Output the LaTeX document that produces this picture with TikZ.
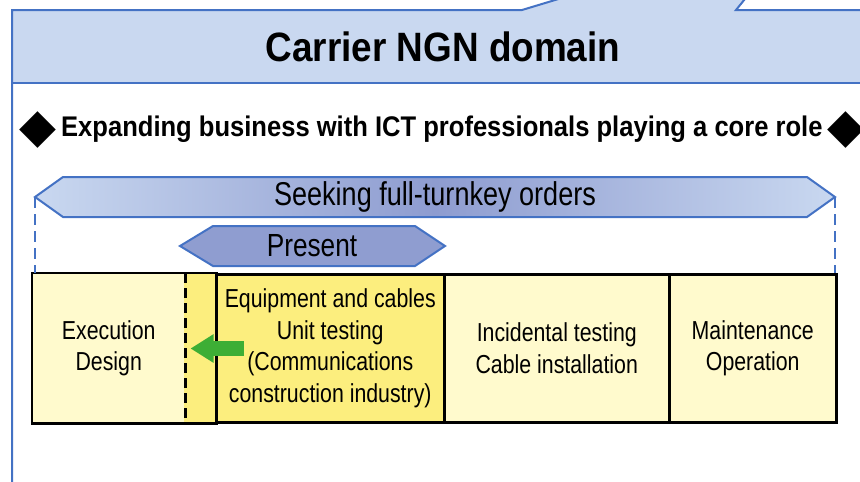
\documentclass[tikz,border=0pt]{standalone}
\usepackage{fontspec}
\setmainfont{Liberation Sans}[FakeStretch=0.82]
\newfontfamily\headfont{Liberation Sans}[FakeStretch=0.9]
\newfontfamily\symfont{DejaVu Sans}
\usepackage{tikz}
\usetikzlibrary{arrows.meta,calc}

\definecolor{frameblue}{HTML}{4472C4}
\definecolor{bannerblue}{HTML}{C9D8F0}
\definecolor{seekmid}{HTML}{8E9CD0}
\definecolor{presentblue}{HTML}{8F9DD0}
\definecolor{paleyellow}{HTML}{FFFACD}
\definecolor{deepyellow}{HTML}{FCEE7E}
\definecolor{arrowgreen}{HTML}{3DAE35}

\tikzset{
  bluefr/.style={draw=frameblue, line width=2pt},
  spanlimit/.style={draw=frameblue, line width=2.3pt, dash pattern=on 11pt off 6pt},
  phasebox/.style={draw=black, line width=2.5pt, minimum height=148pt, inner sep=0pt,
    align=center, anchor=north west, font=\fontsize{26}{31.5}\selectfont},
}

\begin{document}
\begin{tikzpicture}[x=1pt,y=-1pt]
    \useasboundingbox (0,0) rectangle (860,482);
    \clip (0,0) rectangle (860,482);

    % Domain banner
    \fill[bannerblue] (12,83) -- (12,10) -- (522,10) -- (575,-6) -- (749,-6) -- (736,10) -- (875,10) -- (875,83) -- cycle;
    \draw[bluefr] (12,490) -- (12,10) -- (522,10) -- (575,-6);
    \draw[bluefr] (749,-6) -- (736,10) -- (875,10);
    \draw[bluefr] (12,83) -- (875,83);
    \node[font=\headfont\fontsize{41}{41}\selectfont\bfseries] (title) at (443,47) {Carrier NGN domain};

    % Subtitle line
    \node[anchor=west, font=\headfont\fontsize{28.4}{28.4}\selectfont\bfseries] (motto) at (16,130)
        {\raisebox{-6pt}{\symfont\fontsize{48}{48}\selectfont ◆}\,Expanding business with ICT professionals playing a core role\,\raisebox{-6pt}{\symfont\fontsize{48}{48}\selectfont ◆}};

    % Full-turnkey span
    \coordinate (seekL) at (35,197);
    \coordinate (seekR) at (835,197);
    \path[bluefr, left color=bannerblue, right color=bannerblue, middle color=seekmid]
        (seekL) -- (63,177) -- (807,177) -- (seekR) -- (807,217) -- (63,217) -- cycle;
    \node[font=\fontsize{33}{33}\selectfont] (seek) at (435,197) {Seeking full-turnkey orders};

    % Present span
    \path[bluefr, fill=presentblue] (180,246) -- (213,226) -- (415,226) -- (445,246) -- (415,266) -- (213,266) -- cycle;
    \node[font=\fontsize{32}{32}\selectfont] (present) at (312,246) {Present};

    % Work phases
    \node[phasebox, fill=paleyellow, draw=none, minimum width=151pt] (exec) at (32,273) {Execution\\Design};
    \node[phasebox, fill=deepyellow, draw=none, minimum width=32pt] (strip) at (183,273) {};
    \node[phasebox, fill=deepyellow, minimum width=228pt] (equip) at (215,273)
        {Equipment and cables\\Unit testing\\(Communications\\construction industry)};
    \node[phasebox, fill=paleyellow, minimum width=225pt] (incid) at (443,273) {Incidental testing\\Cable installation};
    \node[phasebox, fill=paleyellow, minimum width=167pt] (maint) at (668,273) {Maintenance\\Operation};
    \draw[line width=2.5pt] (strip.north east) -- (exec.north west) -- (exec.south west) -- (strip.south east);
    \draw[line width=2.3pt, dash pattern=on 10pt off 5pt] (exec.north east) -- (exec.south east);

    % Dashed span limits
    \draw[spanlimit] (seekL) -- (seekL |- exec.north);
    \draw[spanlimit] (seekR) -- (seekR |- maint.north);

    % Shift arrow
    \coordinate (arrtail) at (244,348.5);
    \draw[arrowgreen, line width=15pt, -{Triangle[length=23pt,width=27pt]}]
        (arrtail) -- ($(exec.east |- arrtail)+(5,0)$);
\end{tikzpicture}
\end{document}
